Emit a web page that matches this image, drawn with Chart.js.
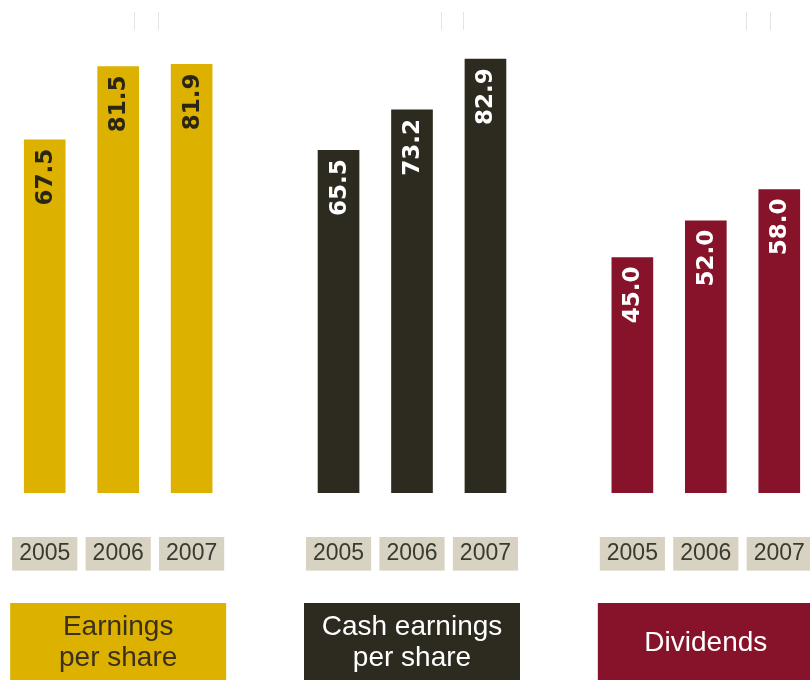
<!DOCTYPE html>
<html>
<head>
<meta charset="utf-8">
<script src="https://cdn.jsdelivr.net/npm/chart.js@4.4.1/dist/chart.umd.min.js"></script>
<style>
html,body{margin:0;padding:0;background:#ffffff;overflow:hidden}
#wrap{width:826px;height:680px;position:relative}
</style>
</head>
<body>
<div id="wrap"><canvas id="chart"></canvas></div>
<script>

const years=["2005","2006","2007"]
const groupTitles=[["Earnings","per share"],["Cash earnings","per share"],["Dividends"]]
const earnings=[67.5,81.5,81.9]
const cashEarnings=[65.5,73.2,82.9]
const dividends=[45.0,52.0,58.0]

const gold="#dcb100"
const dark="#2d2a1f"
const maroon="#86132a"
const groupColors=[gold,dark,maroon]
const groupText=["#3a301c","#ffffff","#ffffff"]

// 3 bars per group, one empty slot between groups
let labels=[]
let values=[]
let colors=[]
let series=[earnings,cashEarnings,dividends]
series.forEach((s,g)=>{
if(g>0){labels.push("");values.push(null);colors.push("transparent")}
s.forEach((v,i)=>{
labels.push(years[i])
values.push(v)
colors.push(groupColors[g])
})
})

const valueLabels={
id:"valueLabels",
afterDatasetsDraw(chart){
const ctx=chart.ctx
const meta=chart.getDatasetMeta(0)
meta.data.forEach((bar,i)=>{
const v=values[i]
if(v==null) return
const g=Math.floor(i/4)
ctx.save()
ctx.translate(bar.x,bar.y+9)
ctx.rotate(-Math.PI/2)
ctx.font="bold 23px 'DejaVu Sans'"
ctx.fillStyle=g==0?"#2a2616":"#ffffff"
ctx.textAlign="right"
ctx.textBaseline="middle"
ctx.fillText(v.toFixed(1),0,1)
ctx.restore()
})
}
}

const groupBoxes={
id:"groupBoxes",
afterDraw(chart){
const ctx=chart.ctx
const x=chart.scales.x
const top=chart.chartArea.bottom+110
groupTitles.forEach((lines,g)=>{
const cx=x.getPixelForValue(g*4+1)
ctx.save()
ctx.fillStyle=groupColors[g]
ctx.fillRect(cx-108,top,216,120)
ctx.fillStyle=groupText[g]
ctx.font="28px 'Liberation Sans'"
ctx.textAlign="center"
ctx.textBaseline="middle"
if(lines.length==1){
ctx.fillText(lines[0],cx,top+40)
}else{
ctx.fillText(lines[0],cx,top+24)
ctx.fillText(lines[1],cx,top+55)
}
ctx.restore()
})
// faint marks along the top
ctx.save()
ctx.strokeStyle="#e4e4e4"
ctx.lineWidth=1
;[134,158,441,463,746,770].forEach(px=>{
ctx.beginPath()
ctx.moveTo(px+0.5,12)
ctx.lineTo(px+0.5,30)
ctx.stroke()
})
ctx.restore()
}
}

new Chart(document.getElementById("chart"),{
type:"bar",
data:{
labels:labels,
datasets:[{
data:values,
backgroundColor:colors,
barThickness:41,
borderWidth:0
}]
},
options:{
responsive:true,
maintainAspectRatio:false,
animation:false,
layout:{padding:{left:8,right:10,top:22,bottom:0}},
plugins:{legend:{display:false},tooltip:{enabled:false}},
scales:{
x:{
grid:{display:false,drawTicks:false},
border:{display:false},
afterFit(scale){
scale.paddingLeft=0
scale.paddingRight=0
scale.height=187
},
ticks:{
padding:47,
color:"#3a3a30",
font:{family:"'Liberation Sans'",size:23},
maxRotation:0,
autoSkip:false,
showLabelBackdrop:true,
backdropColor:c=>c.tick&&c.tick.label?"#d8d2c2":"rgba(0,0,0,0)",
backdropPadding:{top:3,bottom:3,left:7,right:7}
}
},
y:{
display:false,
min:0,
max:90
}
}
},
plugins:[valueLabels,groupBoxes]
})

</script>
</body>
</html>
